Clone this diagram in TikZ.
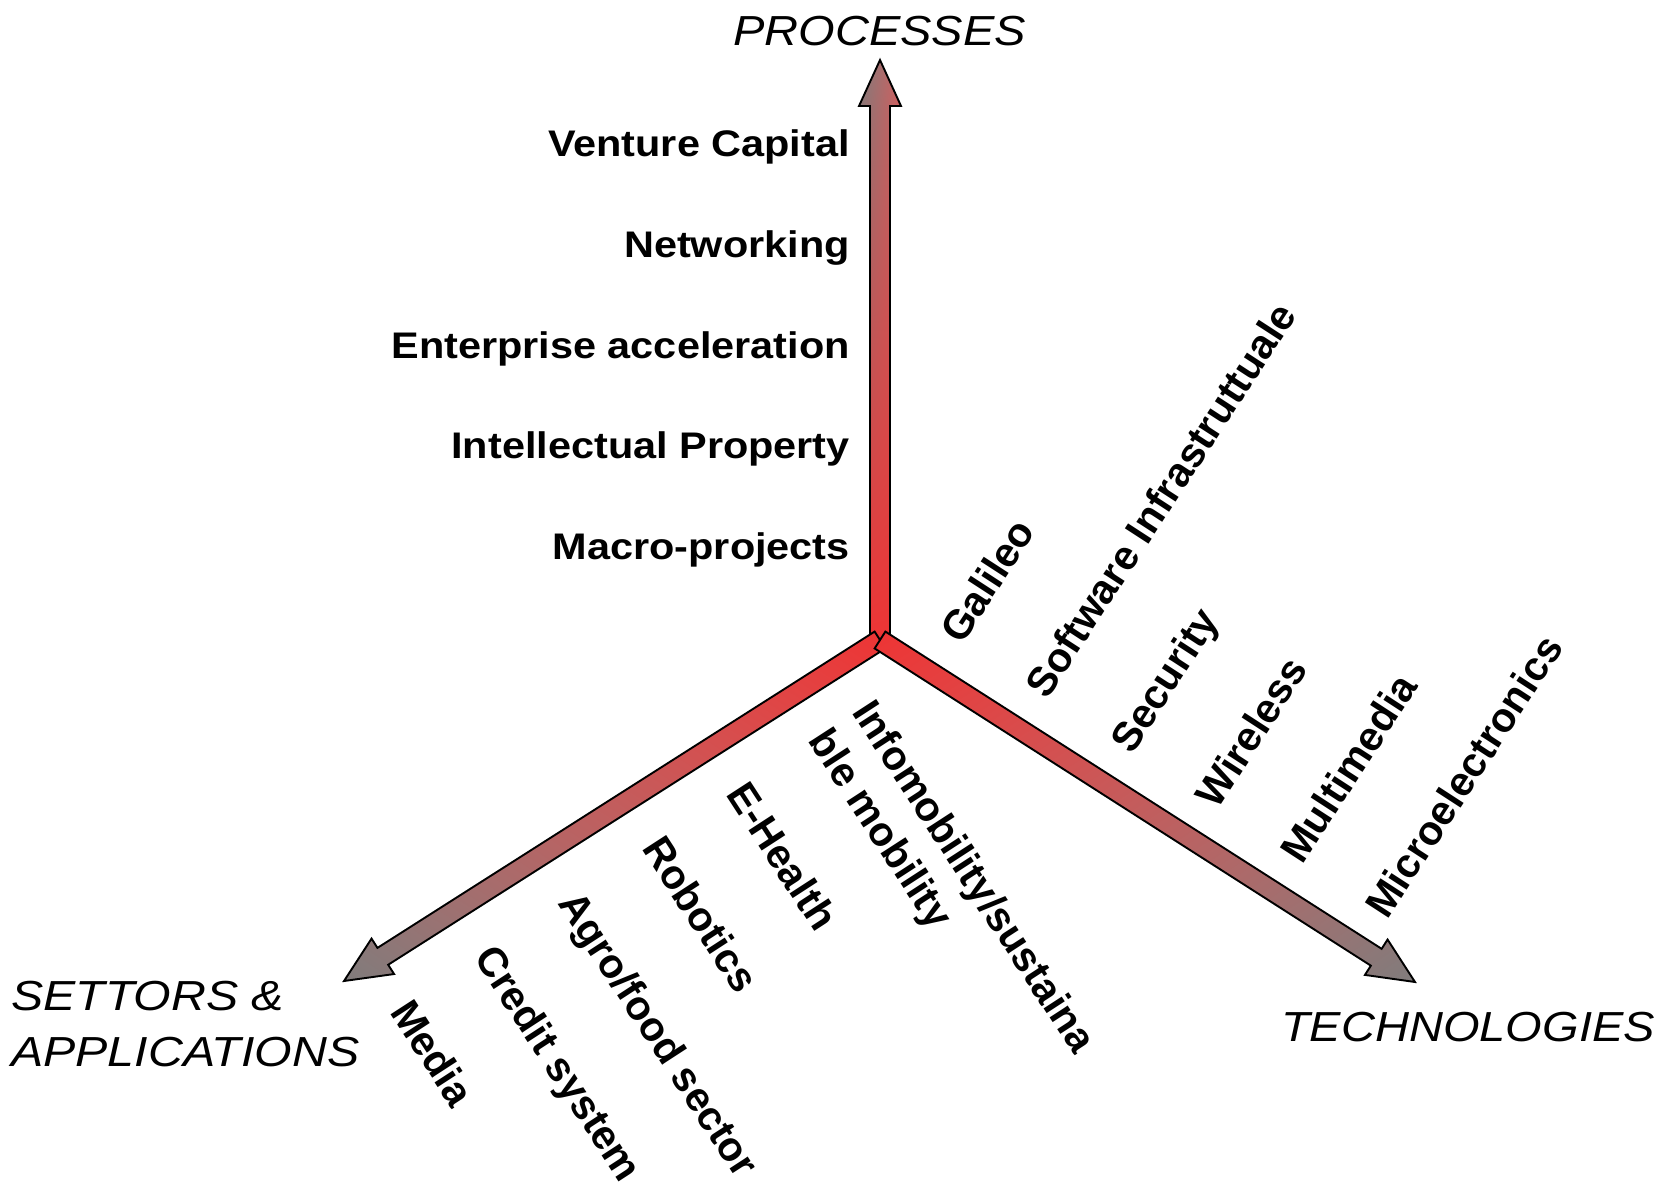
\documentclass[tikz,border=0pt]{standalone}
\usepackage{fontspec}
\setmainfont{Liberation Sans}
\usetikzlibrary{calc,shadings}
\definecolor{arrowred}{RGB}{238,52,52}
\definecolor{arrowgray}{RGB}{128,124,124}
\definecolor{arrowmid}{RGB}{205,98,98}
\newcommand\hstretch[1]{\scalebox{1.12}[1]{#1}}
\newcommand\blockarrow[3]{%
  \coordinate (hh) at ($(#2)!46pt!(#1)$);
  \path[arrowline,#3]
    ($(#1)!10pt!90:(#2)$) -- ($(hh)!10pt!90:(#2)$) -- ($(hh)!21pt!90:(#2)$) -- (#2)
    -- ($(hh)!21pt!-90:(#2)$) -- ($(hh)!10pt!-90:(#2)$) -- ($(#1)!10pt!-90:(#2)$) -- cycle;}
\tikzset{
  arrowline/.style={draw=black, line width=1.9pt, line join=miter},
  proclabel/.style={anchor=base east, inner sep=0pt, font=\fontsize{37}{44}\selectfont\bfseries},
  axistitle/.style={anchor=base west, inner sep=0pt, font=\fontsize{42}{56}\selectfont\itshape},
  techlabel/.style={anchor=base west, inner sep=0pt, rotate=57, font=\fontsize{41}{52}\selectfont\bfseries},
  setlabel/.style={anchor=base west, inner sep=0pt, rotate=-57, font=\fontsize{41}{52}\selectfont\bfseries},
}
\begin{document}
\begin{tikzpicture}[x=1pt,y=-1pt]
\path[use as bounding box, fill=white] (0,0) rectangle (1659,1186);
% axes
\coordinate (O) at (880,640);
\coordinate (Ov) at (880,646);
\coordinate (Ptip) at (880,60);
\coordinate (Stip) at (344,981);
\coordinate (Ttip) at (1415,982);
\blockarrow{Ov}{Ptip}{upper left=arrowgray, upper right=arrowmid, lower left=arrowred, lower right=arrowred}
\blockarrow{O}{Stip}{upper right=arrowred, lower left=arrowgray, upper left=arrowmid, lower right=arrowmid}
\blockarrow{O}{Ttip}{upper left=arrowred, lower right=arrowgray, upper right=arrowmid, lower left=arrowmid}
% titles
\node[axistitle] (tproc) at (733,45) {\hstretch{PROCESSES}};
\node[axistitle] (tsett) at (11,1010) {\scalebox{1.15}[1]{\begin{tabular}[t]{@{}l@{}}SETTORS \&\\APPLICATIONS\end{tabular}}};
\node[axistitle] (ttech) at (1281,1041) {\hstretch{TECHNOLOGIES}};
% processes
\node[proclabel] (p1) at (850,156) {\hstretch{Venture Capital}};
\node[proclabel] (p2) at (850,257) {\hstretch{Networking}};
\node[proclabel] (p3) at (850,358) {\hstretch{Enterprise acceleration}};
\node[proclabel] (p4) at (850,458) {\hstretch{Intellectual Property}};
\node[proclabel] (p5) at (850,559) {\hstretch{Macro-projects}};
% technologies
\node[techlabel] (t1) at (962,646) {Galileo};
\node[techlabel] (t2) at (1047,701) {Software Infrastruttuale};
\node[techlabel] (t3) at (1132,756) {Security};
\node[techlabel] (t4) at (1217,811) {Wireless};
\node[techlabel] (t5) at (1302,866) {Multimedia};
\node[techlabel] (t6) at (1387,921) {Microelectronics};
% settors
\node[setlabel] (s1) at (389,1012) {Media};
\node[setlabel] (s2) at (473,957) {Credit system};
\node[setlabel] (s3) at (557,903) {Agro/food sector};
\node[setlabel] (s4) at (641,848) {Robotics};
\node[setlabel] (s5) at (725,794) {E-Health};
\node[setlabel] (s6) at (851,712) {\begin{tabular}[t]{@{}l@{}}Infomobility/sustaina\\ble mobility\end{tabular}};
\end{tikzpicture}
\end{document}
